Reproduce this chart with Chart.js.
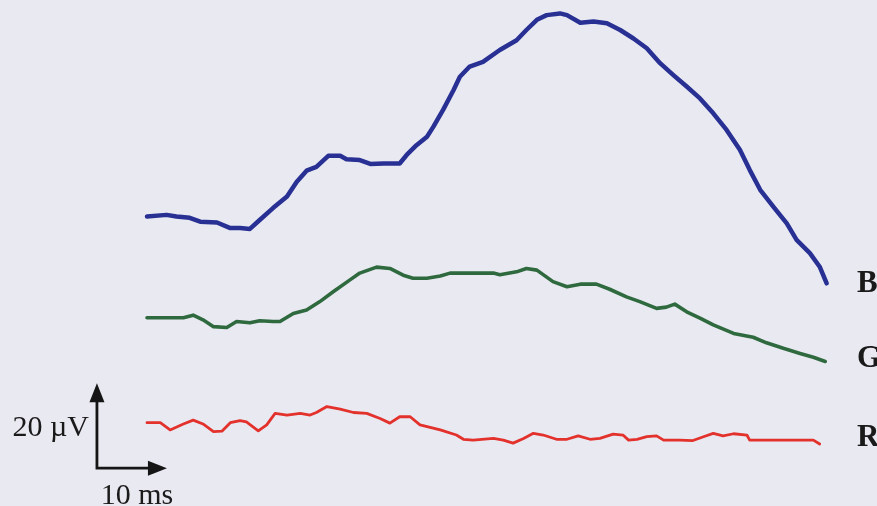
<!DOCTYPE html>
<html>
<head>
<meta charset="utf-8">
<script src="https://cdn.jsdelivr.net/npm/chart.js@4/dist/chart.umd.min.js"></script>
<style>
  html, body { margin: 0; padding: 0; background: #e9e9f2; }
  #wrap { width: 877px; height: 506px; position: relative; }
</style>
</head>
<body>
<div id="wrap"><canvas id="erg"></canvas></div>
<script>
// Time after stimulus (ms) and response amplitude (µV) for each trace
const blueT = [0.0, 2.8, 4.2, 6.1, 7.6, 10.0, 11.9, 13.3, 14.7, 16.1, 18.0, 20.0, 21.4, 22.8, 24.2, 25.9, 27.6, 28.5, 30.4, 31.9, 33.8, 36.1, 37.1, 38.5, 40.0, 40.9, 42.3, 43.8, 44.7, 46.1, 48.0, 50.4, 52.8, 54.2, 55.7, 57.1, 59.0, 60.0, 61.9, 63.8, 65.7, 67.6, 69.5, 71.4, 73.3, 75.2, 77.1, 79.0, 80.9, 82.8, 84.7, 86.1, 87.6, 89.5, 91.4, 92.8, 94.7, 96.1, 97.1];
const blueV = [-1.5, -1.1, -1.5, -1.8, -2.7, -2.9, -4.2, -4.2, -4.4, -2.3, 0.5, 3.2, 6.7, 9.3, 10.2, 12.8, 12.8, 12.0, 11.8, 10.9, 11.0, 11.0, 13.0, 15.3, 17.3, 19.6, 23.6, 28.3, 31.4, 33.8, 34.9, 37.7, 40.0, 42.4, 44.8, 45.9, 46.3, 45.9, 44.1, 44.4, 44.0, 42.4, 40.4, 38.1, 34.6, 31.8, 29.1, 26.3, 22.8, 18.9, 14.2, 9.5, 4.8, 0.8, -3.1, -7.0, -10.1, -13.3, -17.2];

const greenT = [0.0, 5.2, 6.6, 8.0, 9.5, 11.4, 12.8, 14.7, 16.1, 18.0, 19.0, 20.9, 22.8, 24.7, 26.6, 29.0, 30.4, 32.8, 34.7, 36.6, 38.0, 40.0, 41.9, 43.3, 49.5, 50.4, 52.8, 54.2, 55.7, 58.0, 60.0, 61.9, 64.2, 66.1, 68.5, 70.4, 72.8, 74.2, 75.4, 77.1, 79.0, 80.9, 83.8, 86.6, 88.5, 90.9, 93.3, 95.2, 96.9];
const greenV = [-0.3, -0.3, 0.3, -0.8, -2.4, -2.6, -1.2, -1.5, -1.0, -1.2, -1.2, 0.7, 1.5, 3.5, 5.8, 8.6, 10.2, 11.6, 11.3, 9.7, 9.0, 9.0, 9.5, 10.2, 10.2, 9.8, 10.5, 11.3, 10.9, 8.2, 7.0, 7.6, 7.6, 6.4, 4.6, 3.5, 1.9, 2.2, 2.9, 1.1, -0.4, -2.0, -4.0, -4.9, -6.2, -7.5, -8.7, -9.6, -10.6];

const redT = [0.0, 1.9, 3.3, 5.2, 6.6, 8.0, 9.5, 10.7, 11.9, 13.3, 14.2, 15.9, 17.1, 18.3, 20.0, 21.9, 23.3, 24.2, 25.7, 27.6, 29.5, 31.4, 33.3, 34.7, 36.1, 37.6, 39.0, 41.9, 44.2, 45.2, 46.6, 49.5, 50.9, 52.3, 53.8, 55.2, 56.6, 58.5, 60.0, 61.6, 63.3, 64.7, 66.6, 68.0, 68.8, 70.0, 71.4, 72.8, 73.8, 76.1, 78.0, 79.5, 80.9, 82.3, 83.8, 85.7, 86.1, 93.3, 95.2, 96.1];
const redV = [0.0, 0.0, -1.7, -0.3, 0.6, -0.3, -2.1, -2.0, 0.0, 0.5, 0.2, -1.9, -0.5, 2.2, 1.8, 2.2, 1.8, 2.4, 3.8, 3.2, 2.4, 2.2, 1.0, -0.1, 1.4, 1.4, -0.5, -1.7, -2.9, -3.9, -4.1, -3.7, -4.1, -4.8, -3.7, -2.5, -2.9, -3.9, -3.9, -3.1, -3.9, -3.7, -2.7, -2.9, -4.1, -3.9, -3.3, -3.1, -4.1, -4.1, -4.2, -3.3, -2.5, -3.1, -2.6, -2.9, -4.1, -4.1, -4.1, -5.0];

// Trace labels and the vertical stacking offset (µV) each trace is drawn at
const traceLabels = ['B', 'G', 'R'];
const traceOffsets = [50, 25, 0];

// Calibration bar
const barAmplitude = 20;   // µV
const barDuration = 10;    // ms
const barText = ['20 µV', '10 ms'];

const traceStyles = [
  { color: '#283093', width: 4.5 },
  { color: '#2f6a3f', width: 3.6 },
  { color: '#e3312b', width: 2.8 }
];

function pts(ts, vs, off) {
  return ts.map((t, i) => ({ x: t, y: vs[i] + off }));
}

const series = [[blueT, blueV], [greenT, greenV], [redT, redV]];
const datasets = series.map((s, i) => ({
  label: traceLabels[i],
  data: pts(s[0], s[1], traceOffsets[i]),
  borderColor: traceStyles[i].color,
  borderWidth: traceStyles[i].width,
  pointRadius: 0,
  tension: 0,
  borderJoinStyle: 'round',
  borderCapStyle: 'round',
  fill: false
}));

const backdrop = {
  id: 'backdrop',
  beforeDraw(chart) {
    const c = chart.ctx;
    c.save();
    c.fillStyle = '#e9e9f2';
    c.fillRect(0, 0, chart.width, chart.height);
    c.restore();
  }
};

function arrowHead(c, x, y, dir) {
  // dir: 'up' or 'right'; (x, y) is the tip
  c.beginPath();
  if (dir === 'up') {
    c.moveTo(x, y);
    c.lineTo(x - 7.5, y + 19);
    c.lineTo(x + 7.5, y + 19);
  } else {
    c.moveTo(x, y);
    c.lineTo(x - 19, y - 7.5);
    c.lineTo(x - 19, y + 7.5);
  }
  c.closePath();
  c.fill();
}

const annotations = {
  id: 'annotations',
  afterDatasetsDraw(chart) {
    const c = chart.ctx;
    const xs = chart.scales.x, ys = chart.scales.y;
    c.save();

    // trace labels at the right edge
    c.fillStyle = '#1a1a1a';
    c.font = 'bold 31px "Liberation Serif", "Times New Roman", serif';
    c.textAlign = 'left';
    c.textBaseline = 'middle';
    const labelY = [284, 359, 438];
    traceLabels.forEach((lab, i) => {
      c.fillText(lab, 857, labelY[i]);
    });

    // calibration bar, sized through the scales
    const t0 = -7.15, v0 = -10.7;
    const cx = xs.getPixelForValue(t0);
    const cy = ys.getPixelForValue(v0);
    const topY = ys.getPixelForValue(v0 + barAmplitude);
    const rightX = xs.getPixelForValue(t0 + barDuration);
    c.strokeStyle = '#151515';
    c.fillStyle = '#151515';
    c.lineWidth = 2.8;
    c.lineCap = 'butt';
    c.beginPath();
    c.moveTo(cx, topY + 14);
    c.lineTo(cx, cy);
    c.lineTo(rightX - 14, cy);
    c.stroke();
    arrowHead(c, cx, topY, 'up');
    arrowHead(c, rightX, cy, 'right');

    c.fillStyle = '#1a1a1a';
    c.font = '30px "Liberation Serif", "Times New Roman", serif';
    c.textBaseline = 'alphabetic';
    c.textAlign = 'right';
    c.fillText(barText[0], cx - 8, 436);
    c.textAlign = 'center';
    c.fillText(barText[1], cx + 40, 504);
    c.restore();
  }
};

new Chart(document.getElementById('erg'), {
  type: 'line',
  data: { datasets },
  options: {
    responsive: true,
    maintainAspectRatio: false,
    animation: false,
    layout: { padding: 0 },
    plugins: { legend: { display: false }, tooltip: { enabled: false } },
    scales: {
      x: { type: 'linear', display: false, min: -21.0, max: 104.29 },
      y: { type: 'linear', display: false, min: -19.6, max: 99.46 }
    }
  },
  plugins: [backdrop, annotations]
});
</script>
</body>
</html>
